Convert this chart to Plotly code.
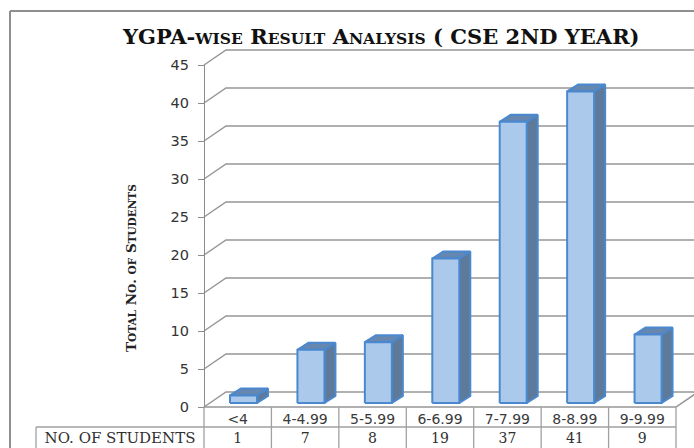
import plotly.graph_objects as go

# ---------------- data ----------------
categories = ["<4", "4-4.99", "5-5.99", "6-6.99", "7-7.99", "8-8.99", "9-9.99"]
students = [1, 7, 8, 19, 37, 41, 9]
y_ticks = [0, 5, 10, 15, 20, 25, 30, 35, 40, 45]
row_header = "NO. OF STUDENTS"

SC = "<span style='font-size:15.5px'>{}</span>"
title_html = ("YGPA-" + SC.format("WISE") + " R" + SC.format("ESULT") + " A" +
              SC.format("NALYSIS") + " ( CSE 2ND YEAR)")
SY = "<span style='font-size:10.5px'>{}</span>"
ytitle_html = ("T" + SY.format("OTAL") + " N" + SY.format("O") + ". " + SY.format("OF") +
               " S" + SY.format("TUDENTS"))

# ---------------- geometry (pixels -> data units) ----------------
W, H = 694, 448
PX_X0, PX_X1 = 204, 676      # front plane left/right
PX_Y0, PX_Y45 = 407, 65      # value 0 / value 45 on the front plane
n = len(categories)
ux = (PX_X1 - PX_X0) / n
uy = (PX_Y0 - PX_Y45) / 45.0


def dx(px):
    return px / ux


def dy(px):
    return px / uy


xr = [-0.5 - PX_X0 / ux, -0.5 + (W - PX_X0) / ux]
yr = [-(H - PX_Y0) / uy, PX_Y0 / uy]

WX, WY = dx(22), dy(15)      # wall depth
BX, BY = dx(11), dy(7)       # bar depth
BASE = dy(4)

fig = go.Figure()

# ---------------- back wall gridlines / side wall / floor ----------------
gx, gy = [], []
for v in y_ticks:
    gx += [-0.5, -0.5 + WX, xr[1] + 1, None]
    gy += [v, v + WY, v + WY, None]
gx += [-0.5, n - 0.5, n - 0.5 + WX, None]
gy += [0, 0, WY, None]
fig.add_trace(go.Scatter(x=gx, y=gy, mode="lines",
                         line=dict(color="#969696", width=1.5),
                         hoverinfo="skip", showlegend=False))

# ---------------- 3D bars ----------------
fx, fy, sx, sy, tx, ty = [], [], [], [], [], []
for i, v in enumerate(students):
    x0 = i - 0.5 + dx(26)
    x1 = x0 + dx(27)
    b = BASE
    t = BASE + v
    fx += [x0, x1, x1, x0, x0, None]
    fy += [b, b, t, t, b, None]
    sx += [x1, x1 + BX, x1 + BX, x1, x1, None]
    sy += [b, b + BY, t + BY, t, b, None]
    tx += [x0, x1, x1 + BX, x0 + BX, x0, None]
    ty += [t, t, t + BY, t + BY, t, None]

edge = dict(color="#4a88cf", width=2)
fig.add_trace(go.Scatter(x=sx, y=sy, mode="lines", fill="toself", fillcolor="#5e7a9b",
                         line=edge, hoverinfo="skip", showlegend=False))
fig.add_trace(go.Scatter(x=tx, y=ty, mode="lines", fill="toself", fillcolor="#6587b0",
                         line=edge, hoverinfo="skip", showlegend=False))
fig.add_trace(go.Scatter(x=fx, y=fy, mode="lines", fill="toself", fillcolor="#abc9ea",
                         line=edge, hoverinfo="skip", showlegend=False))

# ---------------- data table ----------------
x_hdr = -0.5 - dx(PX_X0 - 36)
y_row = -dy(20)
lx, ly = [x_hdr, n - 0.5, None], [y_row, y_row, None]
for k in range(n + 1):
    lx += [k - 0.5, k - 0.5, None]
    ly += [0, yr[0] - 1, None]
lx += [x_hdr, x_hdr, None]
ly += [y_row, yr[0] - 1, None]
fig.add_trace(go.Scatter(x=lx, y=ly, mode="lines",
                         line=dict(color="#a0a0a0", width=1.3),
                         hoverinfo="skip", showlegend=False))

fig.add_trace(go.Scatter(x=list(range(n)), y=[-dy(13)] * n, mode="text",
                         text=categories,
                         textfont=dict(family="DejaVu Sans", size=14, color="#3a3a3a"),
                         hoverinfo="skip", showlegend=False))
fig.add_trace(go.Scatter(x=list(range(n)), y=[-dy(32)] * n, mode="text",
                         text=[str(s) for s in students],
                         textfont=dict(family="DejaVu Serif", size=14, color="#303030"),
                         hoverinfo="skip", showlegend=False))
fig.add_trace(go.Scatter(x=[(x_hdr - 0.5) / 2], y=[-dy(32)], mode="text",
                         text=[row_header],
                         textfont=dict(family="DejaVu Serif", size=15, color="#303030"),
                         hoverinfo="skip", showlegend=False))

# invisible trace to activate the visible value axis
fig.add_trace(go.Scatter(x=[None], y=[None], xaxis="x", yaxis="y2",
                         hoverinfo="skip", showlegend=False))

fig.update_layout(
    width=W, height=H,
    margin=dict(l=0, r=0, t=0, b=0, autoexpand=False),
    paper_bgcolor="white", plot_bgcolor="rgba(0,0,0,0)",
    xaxis=dict(domain=[0, 1], range=xr, visible=False, fixedrange=True),
    yaxis=dict(domain=[0, 1], range=yr, visible=False, fixedrange=True),
    yaxis2=dict(domain=[(H - PX_Y0) / H, (H - PX_Y45) / H], range=[0, 45],
                anchor="free", position=PX_X0 / W, side="left",
                tickvals=y_ticks, ticks="outside", ticklen=6, tickwidth=1.3,
                ticklabelstandoff=6,
                tickcolor="#8c8c8c", showline=True, linecolor="#8c8c8c", linewidth=1.3,
                showgrid=False, zeroline=False, automargin=False, fixedrange=True,
                tickfont=dict(family="DejaVu Sans", size=14.5, color="#333333")),
    showlegend=False,
    shapes=[
        dict(type="line", xref="paper", yref="paper", x0=10 / W, x1=10 / W,
             y0=0, y1=1 - 11 / H, line=dict(color="#8f8f8f", width=2)),
        dict(type="line", xref="paper", yref="paper", x0=10 / W, x1=1,
             y0=1 - 11 / H, y1=1 - 11 / H, line=dict(color="#8f8f8f", width=2)),
    ],
    annotations=[
        dict(text=title_html, xref="paper", yref="paper", x=381 / W, y=1 - 36 / H,
             xanchor="center", yanchor="middle", showarrow=False,
             font=dict(family="DejaVu Serif", size=21, color="#111111", weight="bold")),
        dict(text=ytitle_html, xref="paper", yref="paper", x=131 / W, y=1 - 268 / H,
             xanchor="center", yanchor="middle", showarrow=False, textangle=-90,
             font=dict(family="DejaVu Serif", size=13.5, color="#222222", weight="bold")),
    ],
)

fig.write_html("out.html", config={"displayModeBar": False},
               post_script="document.body.style.margin='0';document.body.style.overflow='hidden';")
